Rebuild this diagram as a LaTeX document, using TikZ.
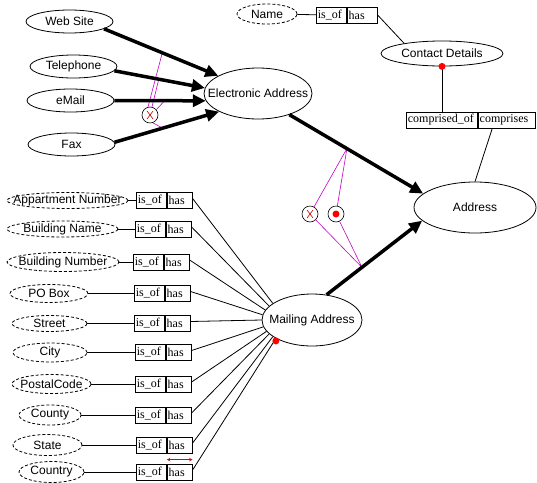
\documentclass[tikz,border=0pt]{standalone}
\usepackage{fontspec}
\setmainfont{Liberation Serif}
\setsansfont{Liberation Sans}
\usetikzlibrary{arrows.meta,shapes.geometric,calc}
\definecolor{magcol}{RGB}{200,0,200}
\definecolor{xcol}{RGB}{200,0,0}
\definecolor{dotred}{RGB}{255,0,0}
\definecolor{arrred}{RGB}{190,20,20}
\begin{document}
\begin{tikzpicture}[x=1pt,y=-1pt,
  lbl/.style={font=\sffamily\fontsize{12}{14}\selectfont, inner sep=0pt},
  ent/.style={ellipse, draw, line width=0.8pt, inner sep=0pt, label={[lbl]center:#1}},
  attr/.style={ent={#1}, dash pattern=on 3pt off 2pt},
  cell/.style={draw, line width=0.8pt, inner xsep=1.5pt, inner ysep=0pt, minimum height=16pt,
    anchor=west, font=\rmfamily\fontsize{12}{14}\selectfont, align=left},
  big/.style={line width=3.5pt, -{Triangle[length=13pt,width=12pt]}},
  conn/.style={line width=0.8pt},
  mag/.style={draw=magcol, line width=0.6pt},
  ring/.style={circle, draw, fill=white, minimum size=16pt, inner sep=0pt, line width=0.6pt},
  reddot/.style={circle, fill=dotred, minimum size=7pt, inner sep=0pt},
  xline/.style={draw=xcol, line width=0.6pt},
  rarrow/.style={draw=arrred, line width=0.8pt, {Stealth[length=3.5pt,width=3.5pt]}-{Stealth[length=3.5pt,width=3.5pt]}}
]
\fill[white] (0,0) rectangle (537,482);
\useasboundingbox (0,0) rectangle (537,482);

% entities
\node[ent={Web Site}, minimum width=87pt, minimum height=23pt] (web) at (69.5,21.5) {};
\node[ent={Telephone}, minimum width=87pt, minimum height=23pt] (tel) at (73.5,66.5) {};
\node[ent={eMail}, minimum width=87pt, minimum height=23pt] (email) at (70.5,100.5) {};
\node[ent={Fax}, minimum width=87pt, minimum height=23pt] (fax) at (71.5,144.5) {};
\node[ent={Electronic Address}, minimum width=108pt, minimum height=51pt] (ea) at (258,93.5) {};
\node[attr={Name}, minimum width=60pt, minimum height=20pt] (name) at (267,14) {};
\node[cell, text width=27pt] (ti) at (316,15) {is\_of};
\node[cell, text width=27pt] (th) at (ti.east) {has};
\node[ent={Contact Details}, minimum width=122pt, minimum height=25pt] (cd) at (442,53.5) {};
\node[cell, text width=68pt] (c1) at (406,120) {comprised\_of};
\node[cell, text width=54pt] (c2) at (c1.east) {comprises};
\node[ent={Address}, minimum width=122pt, minimum height=51pt] (addr) at (475,207.5) {};
\node[ent={Mailing Address}, minimum width=100pt, minimum height=52pt] (ma) at (312,320) {};

% points on the arrows
\path (web.-12) -- coordinate[pos=0.51] (pw) (ea.156);
\path (tel.-6) -- coordinate[pos=0.49] (pt) (ea.174);
\path (email.east) -- coordinate[pos=0.55] (pe) (ea.188);
\path (fax.3) -- coordinate[pos=0.46] (pf) (ea.205);
\path (ea.-34) -- coordinate[pos=0.43] (pa) (addr.165);
\path (ma.60) -- coordinate[pos=0.37] (pb) (addr.194);

% constraint rings
\node[ring] (xe) at (150,115) {};
\node[ring] (mx) at (310,214) {};
\node[ring] (md) at (336,214) {};
\draw[xline] ([shift={(-3pt,-4pt)}]xe.center) -- ([shift={(3pt,4pt)}]xe.center)
             ([shift={(-3pt,4pt)}]xe.center) -- ([shift={(3pt,-4pt)}]xe.center);
\draw[xline] ([shift={(-3pt,-4pt)}]mx.center) -- ([shift={(3pt,4pt)}]mx.center)
             ([shift={(-3pt,4pt)}]mx.center) -- ([shift={(3pt,-4pt)}]mx.center);
\node[reddot] (mdd) at (md.center) {};

% magenta constraint lines
\draw[mag] (pw) -- (xe.104) (pt) -- (xe.76) (xe.40) -- (pe) (xe.-70) -- (pf);
\draw[mag] (pa) -- (mx) -- (pb) (pa) -- (md) -- (pb);

% thick arrows
\draw[big] (web.-12) -- (ea.156);
\draw[big] (tel.-6) -- (ea.174);
\draw[big] (email.east) -- (ea.188);
\draw[big] (fax.3) -- (ea.205);
\draw[big] (ea.-34) -- (addr.165);
\draw[big] (ma.60) -- (addr.194);

% top connectors
\draw[conn] (name) -- (ti);
\draw[conn] (th.east) -- (cd.165);
\draw[conn] (cd.south) -- (cd.south |- c1.north);
\draw[conn] ($(c2.south west)!0.25!(c2.south east)$) -- (addr.north);
\node[reddot] (cdd) at (cd.south) {};

% mailing attributes
\foreach \i/\t/\ex/\ew/\eh/\bx/\by/\ang in {
  1/Appartment Number/67.5/121/16/136/200.5/157,
  2/Building Name/62.5/111/16/135/229/162,
  3/Building Number/63/112/19/133/262/168,
  4/PO Box/49/78/18/134/293.5/174,
  5/Street/49.5/75/16/134/323.5/180,
  6/City/50/74/19/135/352.5/188,
  7/PostalCode/51.5/79/19/135/384/194,
  8/County/50/62/20/135/415/198,
  9/State/47.5/69/21/136/445/203,
  10/Country/51.5/65/21/136/472/207}{
  \node[attr={\t}, minimum width=\ew pt, minimum height=\eh pt] (e\i) at (\ex,\by) {};
  \node[cell, text width=27pt] (i\i) at (\bx,\by) {is\_of};
  \node[cell, text width=22pt] (h\i) at (i\i.east) {has};
  \draw[conn] (e\i) -- (i\i);
  \draw[conn] ([yshift=2pt]h\i.east) -- (ma.\ang);
}
\node[reddot] (mad) at ([yshift=-2.5pt]ma.207) {};
\draw[rarrow] ([yshift=4pt]h10.north west) -- ([yshift=4pt]h10.north east);
\end{tikzpicture}
\end{document}
